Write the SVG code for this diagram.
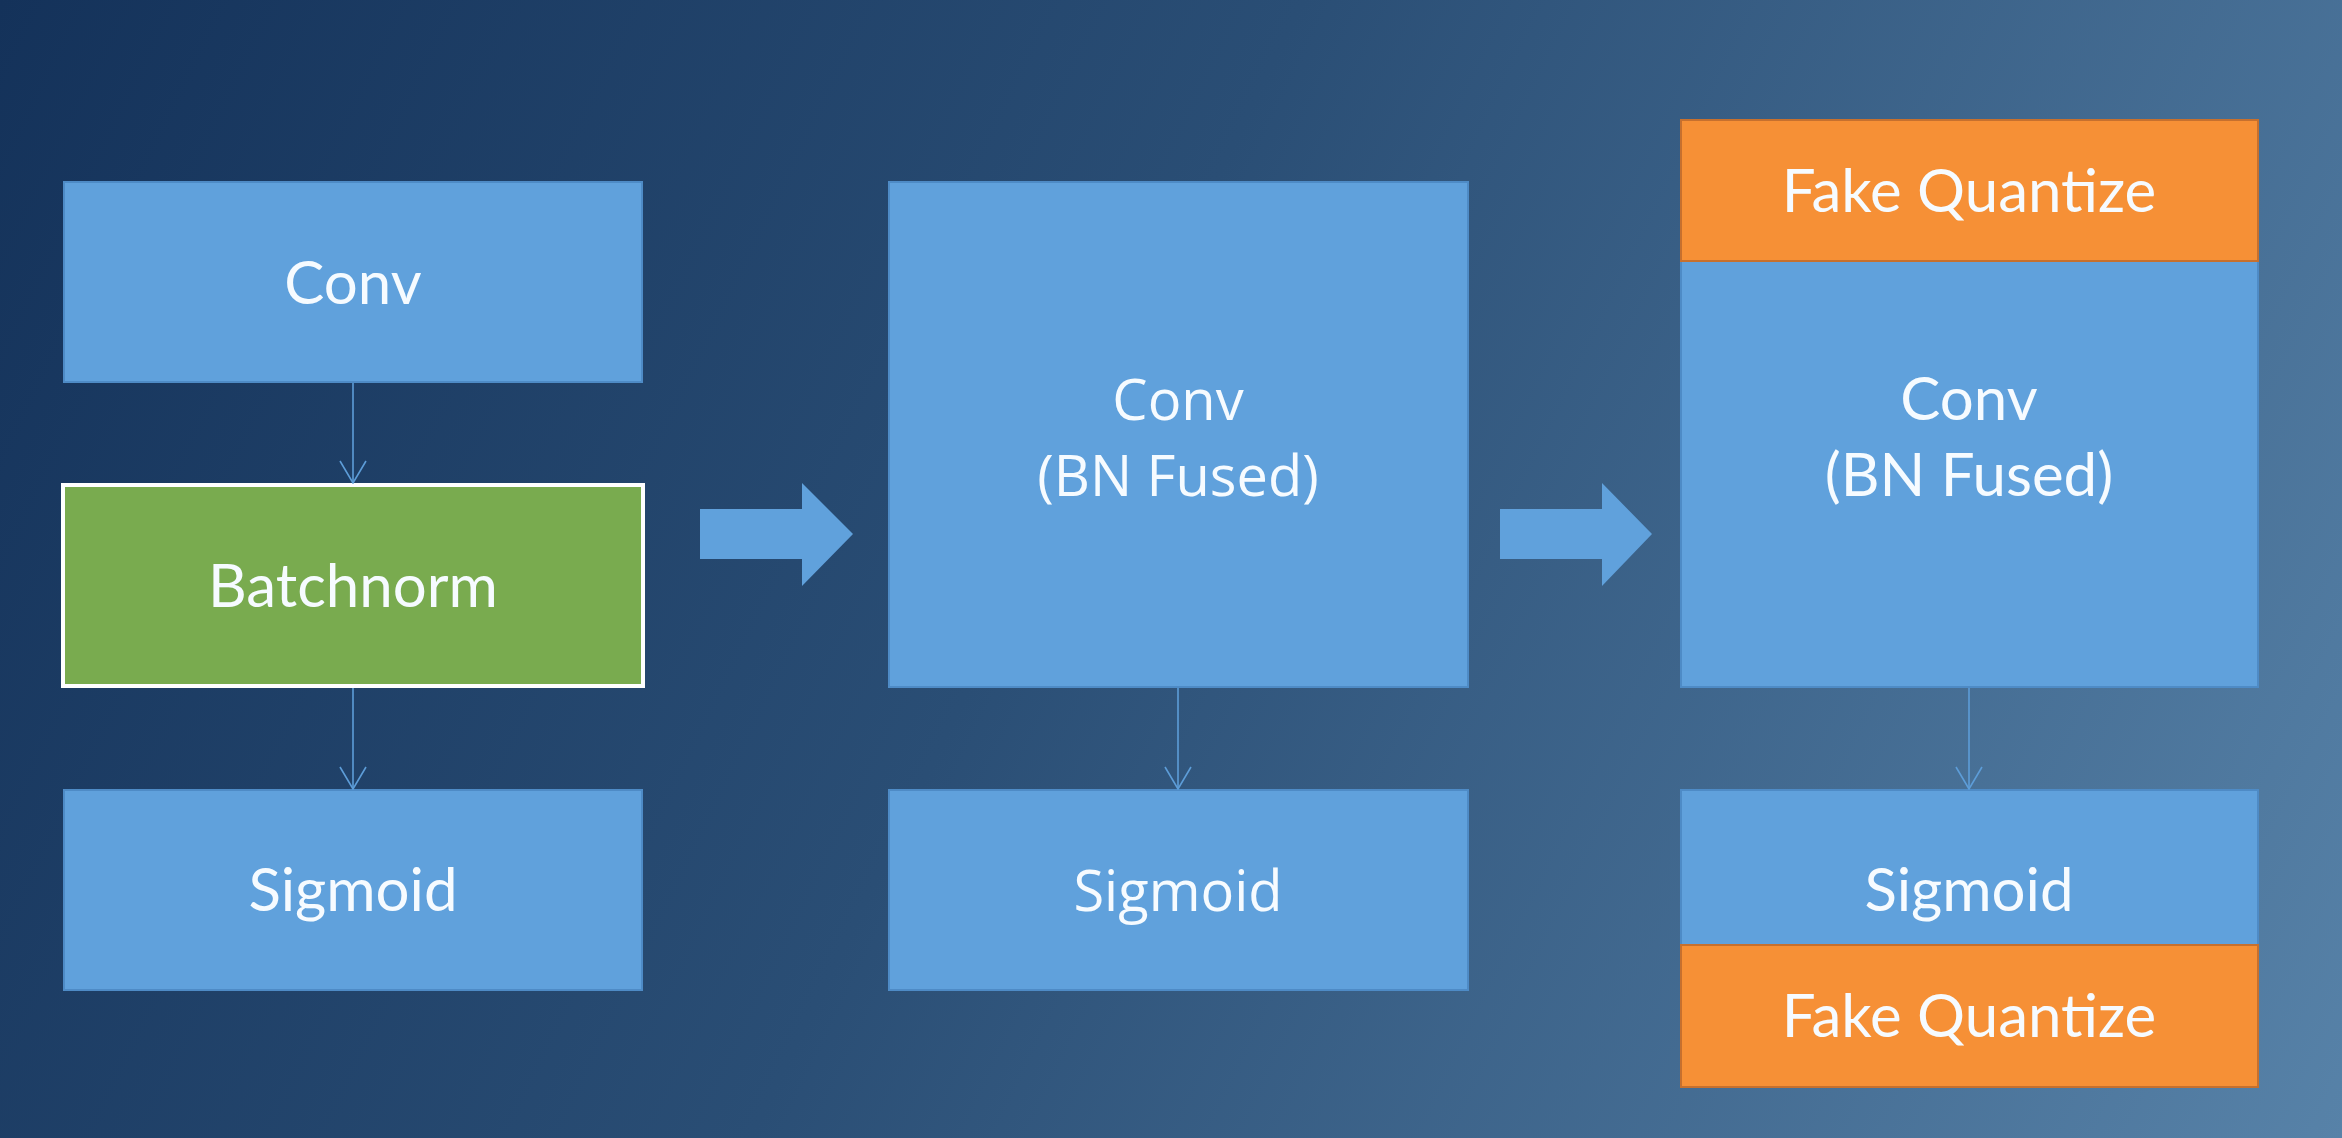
<svg xmlns="http://www.w3.org/2000/svg" width="2342" height="1138" viewBox="0 0 2342 1138">
<defs>
<linearGradient id="bg" gradientUnits="userSpaceOnUse" x1="0" y1="0" x2="2342" y2="1138">
<stop offset="0" stop-color="#14325a"/>
<stop offset="0.45" stop-color="#2a4e75"/>
<stop offset="1" stop-color="#5782a8"/>
</linearGradient>
<marker id="vhd" viewBox="0 0 28 24" refX="14" refY="23" markerWidth="28" markerHeight="24" markerUnits="userSpaceOnUse" orient="0">
<path d="M1,1 L14,23 L27,1" fill="none" stroke="#5d9dd8" stroke-width="1.6"/>
</marker>
</defs>
<style>
.blue{fill:#60a1dc;stroke:#4e8bc6;stroke-width:2}
.green{fill:#79ab4f;stroke:#ffffff;stroke-width:4}
.orange{fill:#f69036;stroke:#c6702e;stroke-width:2}
.t{font-family:Lato,"Noto Sans",sans-serif;font-size:60px;fill:#f6fbff;text-anchor:middle}
.t2{font-family:"Open Sans","Noto Sans",sans-serif;font-size:56px;fill:#f6fbff;text-anchor:middle}
.conn{stroke:#5d9dd8;stroke-width:1.6;fill:none}
.big{fill:#60a1dc}
</style>
<rect x="0" y="0" width="2342" height="1138" fill="url(#bg)"/>

<g id="conv1"><rect class="blue" x="64" y="182" width="578" height="200"/><text class="t" x="353" y="304">Conv</text></g>
<g id="batchnorm"><rect class="green" x="63" y="485" width="580" height="201"/><text class="t" x="353" y="607">Batchnorm</text></g>
<g id="sigmoid1"><rect class="blue" x="64" y="790" width="578" height="200"/><text class="t" x="353" y="911">Sigmoid</text></g>

<g id="conv2"><rect class="blue" x="889" y="182" width="579" height="505"/><text class="t2" x="1178" y="420">Conv</text><text class="t2" x="1178" y="496">(BN Fused)</text></g>
<g id="sigmoid2"><rect class="blue" x="889" y="790" width="579" height="200"/><text class="t2" x="1178" y="911">Sigmoid</text></g>

<g id="conv3"><rect class="blue" x="1681" y="182" width="577" height="505"/><text class="t" x="1969" y="420">Conv</text><text class="t" x="1969" y="496">(BN Fused)</text></g>
<g id="fq1"><rect class="orange" x="1681" y="120" width="577" height="141"/><text class="t" x="1969" y="212">Fake Quantize</text></g>
<g id="sigmoid3"><rect class="blue" x="1681" y="790" width="577" height="200"/><text class="t" x="1969" y="911">Sigmoid</text></g>
<g id="fq2"><rect class="orange" x="1681" y="945" width="577" height="142"/><text class="t" x="1969" y="1037">Fake Quantize</text></g>

<g id="bigarrow1"><path class="big" d="M700,509 H802 V483 L853,534 L802,586 V559 H700 Z"/></g>
<g id="bigarrow2"><path class="big" d="M1500,509 H1602 V483 L1652,534 L1602,586 V559 H1500 Z"/></g>

<g id="connectors">
<line class="conn" x1="353" y1="383" x2="353" y2="483" marker-end="url(#vhd)"/>
<line class="conn" x1="353" y1="688" x2="353" y2="789" marker-end="url(#vhd)"/>
<line class="conn" x1="1178" y1="688" x2="1178" y2="789" marker-end="url(#vhd)"/>
<line class="conn" x1="1969" y1="688" x2="1969" y2="789" marker-end="url(#vhd)"/>
</g>
</svg>
